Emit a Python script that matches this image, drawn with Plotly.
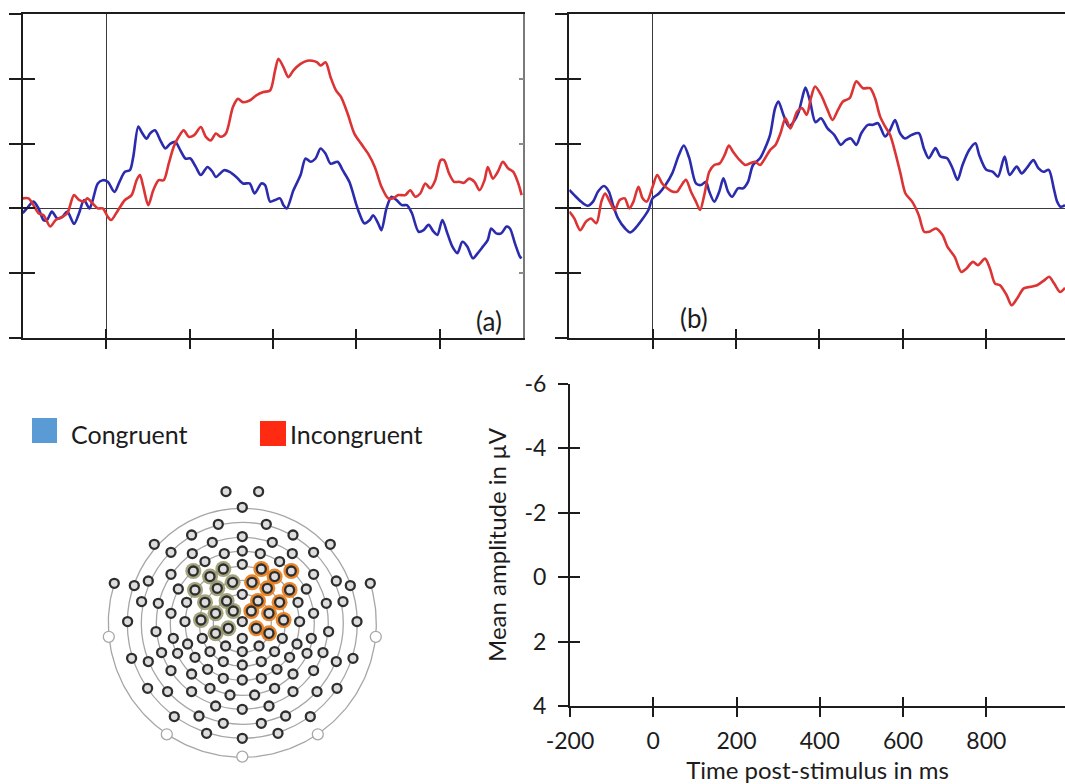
import numpy as np
import plotly.graph_objects as go

W, H = 1065, 784

# ---------------- ERP waveforms (µV; negative plotted upward) ----------------
# Panel (a)
a_inc_t = [-200, -186, -174, -162, -150, -134, -121, -105, -93, -77, -65, -53, -45, -32, -20, -8,
           4, 12, 24, 45, 61, 73, 81, 89, 101, 113, 126, 138, 150, 162, 174, 186, 198, 211, 227,
           239, 251, 263, 275, 287, 304, 316, 328, 344, 360, 377, 393, 405, 413, 425, 437, 449,
           466, 482, 494, 506, 514, 526, 538, 551, 563, 579, 595, 611, 628, 644, 660, 676, 688,
           700, 717, 729, 741, 753, 765, 777, 789, 802, 810, 822, 834, 846, 858, 870, 883, 895,
           907, 915, 927, 939, 951, 964, 976, 988, 996]
a_inc_v = [-0.31, -0.31, -0.10, 0.15, 0.21, 0.56, 0.36, 0.26, 0.15, -0.41, -0.26, -0.21, -0.31,
           -0.15, 0.0, 0.0, 0.26, 0.36, 0.15, -0.26, -0.41, -0.87, -1.03, -0.67, -0.10, -0.56,
           -0.87, -0.87, -1.38, -1.90, -2.21, -2.41, -2.21, -2.26, -2.51, -2.21, -2.10, -2.31,
           -2.21, -2.31, -3.13, -3.38, -3.28, -3.33, -3.49, -3.59, -3.64, -4.26, -4.62, -4.36,
           -4.05, -4.26, -4.46, -4.56, -4.56, -4.51, -4.41, -4.51, -4.05, -3.64, -3.44, -2.92,
           -2.31, -2.00, -1.69, -1.28, -0.67, -0.31, -0.31, -0.41, -0.41, -0.56, -0.36, -0.46,
           -0.77, -0.62, -0.87, -1.49, -1.49, -1.08, -0.82, -0.82, -0.79, -0.92, -0.82, -0.56,
           -0.87, -1.28, -0.92, -1.13, -1.44, -1.23, -1.13, -0.77, -0.41]

a_con_t = [-200, -190, -174, -162, -150, -142, -130, -117, -105, -93, -77, -65, -53, -40, -32, -20,
           -8, 4, 20, 32, 45, 57, 65, 77, 85, 97, 105, 117, 130, 142, 154, 166, 178, 190, 202,
           215, 227, 243, 255, 263, 283, 296, 312, 328, 344, 356, 372, 381, 393, 405, 417, 425,
           433, 449, 466, 478, 490, 502, 514, 526, 538, 555, 567, 583, 599, 607, 619, 632, 640,
           652, 660, 672, 684, 696, 709, 721, 733, 749, 761, 773, 785, 794, 806, 818, 830, 842,
           854, 866, 879, 891, 903, 915, 923, 935, 947, 960, 968, 980, 992, 996]
a_con_v = [0.15, 0.0, -0.21, 0.0, 0.36, 0.36, 0.10, 0.31, 0.26, 0.10, 0.48, 0.15, -0.26, 0.0,
           -0.26, -0.77, -0.87, -0.82, -0.51, -0.82, -1.13, -1.18, -1.59, -2.53, -2.36, -2.15,
           -2.31, -2.41, -2.10, -1.85, -2.00, -2.05, -1.79, -1.54, -1.54, -1.28, -1.03, -1.28,
           -1.13, -0.97, -1.18, -1.13, -0.97, -0.77, -0.77, -0.46, -0.77, -0.72, -0.21, -0.26,
           -0.31, -0.10, 0.0, -0.56, -1.03, -1.54, -1.44, -1.54, -1.85, -1.69, -1.38, -1.44,
           -1.18, -0.82, -0.15, 0.15, 0.46, 0.36, 0.21, 0.46, 0.67, 0.0, -0.36, -0.26, -0.10,
           -0.10, 0.15, 0.72, 0.67, 0.51, 0.72, 0.82, 0.36, 0.77, 1.18, 1.38, 1.03, 1.18, 1.54,
           1.38, 1.18, 0.97, 0.62, 0.77, 0.77, 0.56, 0.62, 1.08, 1.49, 1.54]

# Panel (b)
b_inc_t = [-200, -188, -174, -160, -148, -135, -123, -114, -103, -91, -79, -67, -56, -46, -34, -24,
           -14, 0, 11, 23, 35, 47, 59, 67, 80, 92, 104, 114, 124, 136, 148, 161, 173, 183, 193,
           209, 222, 234, 246, 258, 270, 282, 295, 307, 319, 331, 347, 359, 370, 380, 390, 404,
           420, 432, 445, 457, 473, 489, 505, 522, 534, 546, 558, 570, 583, 595, 607, 623, 639,
           652, 664, 680, 696, 708, 725, 741, 753, 769, 781, 798, 810, 822, 834, 850, 862, 875,
           891, 907, 923, 940, 952, 964, 978, 990]
b_inc_v = [0.10, 0.31, 0.67, 0.41, 0.31, 0.46, -0.21, -0.46, -0.21, 0.05, -0.26, -0.31, 0.0,
           -0.21, -0.67, -0.31, -0.21, -0.67, -1.03, -0.77, -0.62, -0.52, -0.52, -0.67, -0.88,
           -0.52, -0.21, 0.05, -0.41, -1.13, -1.34, -1.39, -1.65, -1.94, -1.75, -1.49, -1.34,
           -1.39, -1.44, -1.34, -1.55, -1.80, -1.96, -2.32, -2.78, -2.47, -2.99, -3.09, -2.89,
           -3.40, -3.76, -3.51, -3.04, -2.73, -3.04, -3.30, -3.40, -3.92, -3.71, -3.71, -3.40,
           -2.84, -2.53, -2.27, -1.70, -1.08, -0.46, -0.21, 0.21, 0.72, 0.72, 0.62, 0.82, 1.19,
           1.49, 1.96, 1.86, 1.65, 1.75, 1.55, 1.86, 2.32, 2.37, 2.68, 2.99, 2.78, 2.47, 2.42,
           2.37, 2.22, 2.11, 2.32, 2.58, 2.45]

b_con_t = [-200, -188, -172, -156, -143, -131, -117, -105, -95, -83, -66, -54, -42, -26, -10, 0,
           15, 31, 47, 63, 75, 88, 104, 116, 128, 136, 148, 160, 170, 181, 191, 205, 217, 229,
           241, 258, 270, 282, 294, 302, 314, 327, 339, 351, 359, 367, 378, 391, 404, 420, 436,
           452, 464, 476, 489, 501, 517, 529, 541, 558, 570, 582, 594, 606, 622, 639, 651, 663,
           679, 691, 707, 720, 732, 744, 760, 775, 784, 801, 817, 829, 845, 857, 874, 886, 898,
           914, 926, 938, 951, 963, 971, 979, 990]
b_con_v = [-0.57, -0.41, -0.21, -0.08, -0.21, -0.52, -0.69, -0.52, -0.10, 0.31, 0.62, 0.74,
           0.62, 0.36, 0.05, -0.31, -0.46, -0.72, -1.08, -1.65, -1.94, -1.55, -0.77, -0.72,
           -0.82, -0.52, -0.21, -0.52, -0.93, -0.52, -0.36, -0.62, -0.62, -0.82, -1.34, -1.55,
           -1.86, -2.27, -3.09, -3.30, -2.89, -2.53, -2.68, -2.99, -3.40, -3.73, -3.30, -2.66,
           -2.78, -2.47, -2.27, -1.96, -2.11, -2.16, -1.96, -2.32, -2.58, -2.58, -2.63, -2.22,
           -2.42, -2.73, -2.32, -2.16, -2.27, -2.32, -1.86, -1.55, -1.86, -1.60, -1.55, -1.24,
           -0.88, -1.34, -1.80, -2.01, -1.65, -1.19, -1.13, -0.98, -1.60, -1.03, -1.29, -1.08,
           -1.24, -1.49, -1.24, -1.13, -1.19, -0.62, -0.21, -0.05, -0.10]

amp_ticks = [-6, -4, -2, 0, 2, 4]
amp_labels = ["-6", "-4", "-2", "0", "2", "4"]
time_ticks = [-200, 0, 200, 400, 600, 800]
time_labels = ["-200", "0", "200", "400", "600", "800"]

# ---------------- Sensor net layout (map units, origin at vertex) ----------------
sensor_x = [-16.3, -24, -50.7, -30, -88, -71.3, -50, -18, -37.3, -71.3, -94, -128, -108, -64,
            -100.7, -84, -55.7, -71.3, -57.3, -114.7, -86.3, -69, -54.7, -40, -16.7, -110.7,
            -94, -80.7, -64.7, -47.3, -32.3, -19, -71.3, -50.7, -34.7, -19, -94.7, -74.7, -50.7,
            -32.3, -12.3, -26.7, -68, -43.3, -19, -35.7,
            0, 0, 0, 0, 0, 0, 0, 0, 0, 0, 0, 0,
            16.3, 24, 50.7, 30, 88, 71.3, 50, 18, 37.3, 71.3, 94, 128, 108, 64,
            100.7, 84, 55.7, 71.3, 57.3, 114.7, 86.3, 69, 54.7, 40, 16.7, 110.7,
            94, 80.7, 64.7, 47.3, 32.3, 19, 71.3, 50.7, 34.7, 19, 94.7, 74.7, 50.7,
            32.3, 12.3, 26.7, 68, 43.3, 19, 35.7]
sensor_y = [131.7, 99, 88.3, 81, 79, 71, 69.7, 69.7, 61.7, 49, 42.3, 40, 37.7, 34.3,
            21.7, 20, 21, 10, 1.7, 1.7, -8.3, -15, -20.7, -15, -22.7, -35,
            -38.3, -29.3, -30, -34, -28.3, -38.3, -47.3, -50.7, -46, -55, -65, -68.3, -68.3,
            -65, -71.7, -82.7, -93.3, -92.7, -100, -110,
            116, 86.7, 72.3, 59, 29, 1.7, -15, -28.3, -41.7, -56.7, -86, -115,
            131.7, 99, 88.3, 81, 79, 71, 69.7, 69.7, 61.7, 49, 42.3, 40, 37.7, 34.3,
            21.7, 20, 21, 10, 1.7, 1.7, -8.3, -15, -20.7, -15, -22.7, -35,
            -38.3, -29.3, -30, -34, -28.3, -38.3, -47.3, -50.7, -46, -55, -65, -68.3, -68.3,
            -65, -71.7, -82.7, -93.3, -92.7, -100, -110]

# left-hemisphere cluster
left_roi_x = [-49, -32.3, -19, -9.7, -47.3, -25, -37.3, -15.7, -41.3, -26.7, -9, -26.7, -14]
left_roi_y = [52.3, 46.7, 54.3, 41, 33.3, 35, 21, 22.3, 3.3, 10, 12.3, -10, -5]
# right-hemisphere cluster
right_roi_x = [49, 32.3, 19, 9.7, 47.3, 25, 37.3, 15.7, 41.3, 26.7, 9, 26.7, 14]
right_roi_y = [52.3, 46.7, 54.3, 41, 33.3, 35, 21, 22.3, 3.3, 10, 12.3, -10, -5]
# fiducial / reference positions (open circles)
fid_x = [-133.5, 133.5, -75.5, 75.5, 0]
fid_y = [-13.5, -13.5, -111, -111, -133.3]

ring_radii = [29, 43, 57, 72, 86, 101, 115]
outer_radius = 134
outer_span_deg = [162.6, 377.4]

# ---------------- Styling ----------------
FONT = "Lato"
AX = "#1c1c1c"
BLUE = "#2b2bae"
RED = "#dc3434"

fig = go.Figure()


def wave(t, v, color, xa, ya):
    fig.add_trace(go.Scatter(x=t, y=v, mode="lines",
                             line=dict(color=color, width=2.6, shape="spline", smoothing=0.8),
                             xaxis=xa, yaxis=ya, showlegend=False, hoverinfo="skip"))


wave(a_con_t, a_con_v, BLUE, "x", "y")
wave(a_inc_t, a_inc_v, RED, "x", "y")
wave(b_con_t, b_con_v, BLUE, "x2", "y2")
wave(b_inc_t, b_inc_v, RED, "x2", "y2")

# empty traces so the overlay (inner tick) axes get drawn
for xa, ya in [("x5", "y"), ("x", "y5"), ("x", "y6"), ("x6", "y2"), ("x2", "y7"),
               ("x7", "y3"), ("x3", "y8"), ("x3", "y3")]:
    fig.add_trace(go.Scatter(x=[None], y=[None], xaxis=xa, yaxis=ya, showlegend=False,
                             hoverinfo="skip"))

# sensor map
arc = np.radians(np.linspace(outer_span_deg[0], outer_span_deg[1], 200))
fig.add_trace(go.Scatter(x=outer_radius * np.cos(arc), y=outer_radius * np.sin(arc),
                         mode="lines", line=dict(color="#a6a6a6", width=1.3),
                         xaxis="x4", yaxis="y4", showlegend=False, hoverinfo="skip"))
fig.add_trace(go.Scatter(x=left_roi_x, y=left_roi_y, mode="markers",
                         marker=dict(size=16, color="rgba(148,148,104,0.85)", line=dict(width=0)),
                         xaxis="x4", yaxis="y4", showlegend=False, hoverinfo="skip"))
fig.add_trace(go.Scatter(x=right_roi_x, y=right_roi_y, mode="markers",
                         marker=dict(size=16, color="rgba(230,125,28,0.92)", line=dict(width=0)),
                         xaxis="x4", yaxis="y4", showlegend=False, hoverinfo="skip"))
all_x = sensor_x + left_roi_x + right_roi_x
all_y = sensor_y + left_roi_y + right_roi_y
fig.add_trace(go.Scatter(x=all_x, y=all_y, mode="markers",
                         marker=dict(size=9, color="#dedede", line=dict(color="#2e2e2e", width=2.3)),
                         xaxis="x4", yaxis="y4", showlegend=False, hoverinfo="skip"))
fig.add_trace(go.Scatter(x=fid_x, y=fid_y, mode="markers",
                         marker=dict(size=11, color="white", line=dict(color="#a8a8a8", width=1.3)),
                         xaxis="x4", yaxis="y4", showlegend=False, hoverinfo="skip"))

shapes = []
for r in ring_radii:
    shapes.append(dict(type="circle", xref="x4", yref="y4", x0=-r, x1=r, y0=-r, y1=r,
                       line=dict(color="#a6a6a6", width=1.3), layer="below"))

# legend swatches
shapes.append(dict(type="rect", xref="paper", yref="paper", x0=32 / W, x1=57 / W,
                   y0=1 - 443 / H, y1=1 - 418 / H, fillcolor="#5b9bd5", line=dict(width=0)))
shapes.append(dict(type="rect", xref="paper", yref="paper", x0=260 / W, x1=286 / W,
                   y0=1 - 446 / H, y1=1 - 421 / H, fillcolor="#ff2a12", line=dict(width=0)))

annotations = [
    dict(text="Congruent", xref="paper", yref="paper", x=69 / W, y=1 - 434 / H,
         xanchor="left", yanchor="middle", showarrow=False, font=dict(family=FONT, size=25, color=AX)),
    dict(text="Incongruent", xref="paper", yref="paper", x=288 / W, y=1 - 434 / H,
         xanchor="left", yanchor="middle", showarrow=False, font=dict(family=FONT, size=25, color=AX)),
    dict(text="(a)", xref="paper", yref="paper", x=489 / W, y=1 - 321 / H,
         xanchor="center", yanchor="middle", showarrow=False, font=dict(family=FONT, size=26, color=AX)),
    dict(text="(b)", xref="paper", yref="paper", x=694 / W, y=1 - 318 / H,
         xanchor="center", yanchor="middle", showarrow=False, font=dict(family=FONT, size=26, color=AX)),
]

# ---------------- Axes ----------------
top_y_dom = [1 - 338 / H, 1 - 14 / H]
a_x_dom = [22.7 / W, 523.3 / W]
b_x_dom = [569.3 / W, 1.0]
a_range = [-200, 1000]
b_range = [-200, 990]
amp_range = [4, -6]
erp_x_ticks = time_ticks[1:]

common = dict(showgrid=False, showticklabels=False, automargin=False)


def main_x(dom, rng, anchor):
    return dict(domain=dom, range=rng, anchor=anchor, showline=True, linecolor=AX, linewidth=2,
                mirror=True, ticks="outside", ticklen=9, tickwidth=2, tickcolor=AX,
                tickvals=erp_x_ticks, zeroline=True, zerolinecolor="#3a3a3a", zerolinewidth=1.2,
                **common)


def main_y(dom, anchor):
    return dict(domain=dom, range=amp_range, anchor=anchor, showline=True, linecolor=AX,
                linewidth=2, ticks="outside", ticklen=12, tickwidth=2, tickcolor=AX,
                tickvals=amp_ticks, zeroline=True, zerolinecolor="#3a3a3a", zerolinewidth=1.2,
                **common)


def inner_x(over, rng, anchor, vals, ln=9):
    return dict(overlaying=over, range=rng, anchor=anchor, side="bottom", ticks="inside",
                ticklen=ln, tickwidth=2, tickcolor=AX, tickvals=vals, showline=False,
                zeroline=False, **common)


def inner_y(over, anchor, ln=12):
    return dict(overlaying=over, range=amp_range, anchor=anchor, side="left", ticks="inside",
                ticklen=ln, tickwidth=2, tickcolor=AX, tickvals=amp_ticks, showline=False,
                zeroline=False, **common)


layout = dict(
    width=W, height=H, margin=dict(l=0, r=0, t=0, b=0, autoexpand=False),
    paper_bgcolor="white", plot_bgcolor="rgba(0,0,0,0)",
    font=dict(family=FONT, color=AX),
    shapes=shapes, annotations=annotations,
    xaxis=main_x(a_x_dom, a_range, "y"),
    yaxis=main_y(top_y_dom, "x"),
    xaxis2=main_x(b_x_dom, b_range, "y2"),
    yaxis2=main_y(top_y_dom, "x2"),
    xaxis5=inner_x("x", a_range, "y", erp_x_ticks),
    yaxis5=inner_y("y", "x"),
    yaxis6=dict(overlaying="y", range=amp_range, anchor="x", side="right", ticks="inside",
                ticklen=5, tickwidth=1.5, tickcolor="#8a8a8a", tickvals=[-4, -2, 2],
                showline=True, linecolor="#7a7a7a", linewidth=1.5, zeroline=False, **common),
    xaxis6=inner_x("x2", b_range, "y2", erp_x_ticks),
    yaxis7=inner_y("y2", "x2"),
    # amplitude / time scale
    xaxis3=dict(domain=[570 / W, 1.0], range=[-200, 989], anchor="y3", showline=True,
                linecolor=AX, linewidth=2, ticks="outside", ticklen=9, tickwidth=2,
                tickcolor=AX, tickvals=time_ticks, ticktext=time_labels, showgrid=False,
                zeroline=False, automargin=False, ticklabelstandoff=4,
                tickfont=dict(family=FONT, size=23, color=AX),
                title=dict(text="Time post-stimulus in ms", standoff=13,
                           font=dict(family=FONT, size=24, color=AX))),
    yaxis3=dict(domain=[1 - 706 / H, 1 - 384 / H], range=amp_range, anchor="x3",
                showline=True, linecolor=AX, linewidth=2, ticks="outside", ticklen=10,
                tickwidth=2, tickcolor=AX, tickvals=amp_ticks, ticktext=amp_labels,
                showgrid=False, zeroline=False, automargin=False, ticklabelstandoff=7,
                tickfont=dict(family=FONT, size=23, color=AX),
                title=dict(text="Mean amplitude in µV", standoff=11,
                           font=dict(family=FONT, size=24, color=AX))),
    xaxis7=dict(overlaying="x3", range=[-200, 989], anchor="y3", side="bottom", ticks="inside",
                ticklen=9, tickwidth=2, tickcolor=AX, tickvals=time_ticks, showline=False,
                zeroline=False, **common),
    yaxis8=dict(overlaying="y3", range=amp_range, anchor="x3", side="left", ticks="inside",
                ticklen=10, tickwidth=2, tickcolor=AX, tickvals=amp_ticks, showline=False,
                zeroline=False, **common),
    # sensor map
    xaxis4=dict(domain=[90 / W, 400 / W], range=[-152.3, 157.7], anchor="y4", visible=False,
                automargin=False),
    yaxis4=dict(domain=[1 - 770 / H, 1 - 470 / H], range=[-146.7, 153.3], anchor="x4",
                visible=False, automargin=False),
)

fig.update_layout(**layout)
fig.write_html("out.html")
